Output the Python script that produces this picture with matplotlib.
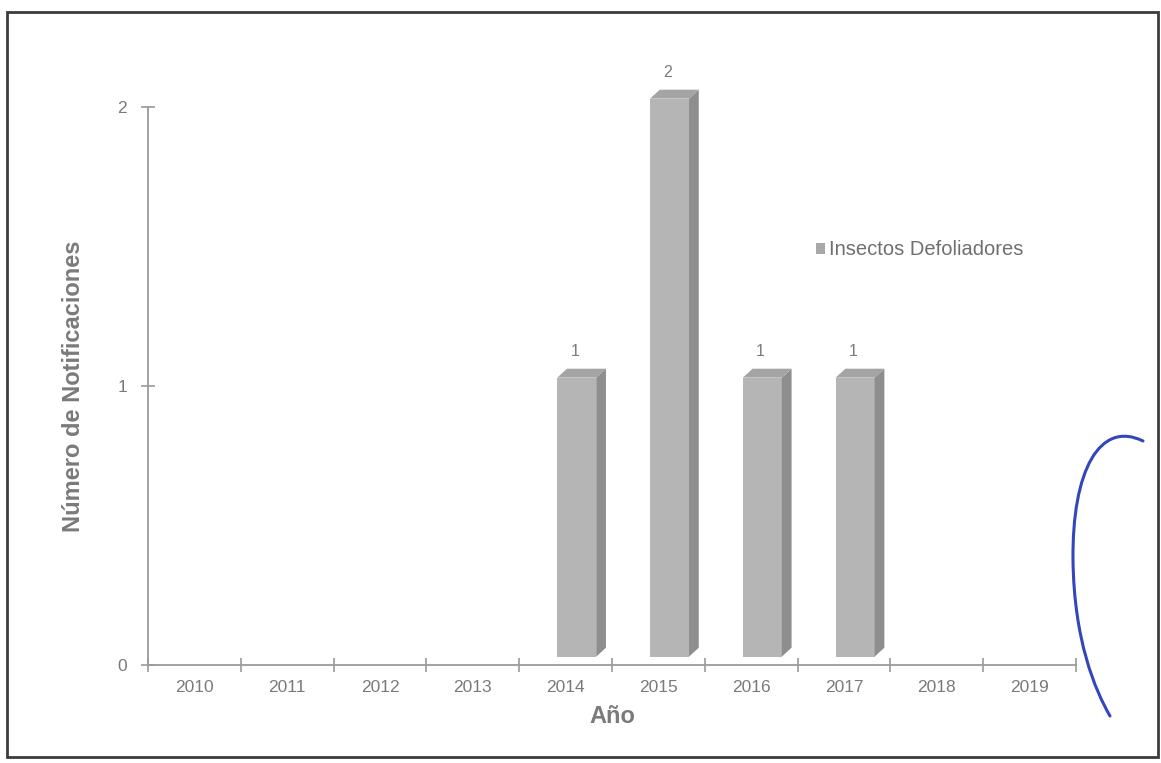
import matplotlib
matplotlib.use("Agg")
import matplotlib.pyplot as plt
import numpy as np
from matplotlib.patches import Polygon, Patch, Rectangle, PathPatch
from matplotlib.path import Path

years = ["2010", "2011", "2012", "2013", "2014", "2015", "2016", "2017", "2018", "2019"]
notificaciones = [0, 0, 0, 0, 1, 2, 1, 1, 0, 0]
serie = "Insectos Defoliadores"

plt.rcParams["font.family"] = ["Liberation Sans", "DejaVu Sans"]

W, H = 1161, 763
fig = plt.figure(figsize=(W / 100, H / 100), dpi=100)
fig.patch.set_facecolor("white")

ax = fig.add_axes([148 / W, 1 - 665 / H, (1076 - 148) / W, (665 - 107) / H])
txt = "#7a7a7a"
axis_col = "#9a9a9a"

# pseudo-3D column: front face, right side, top
bw = 0.42     # front width
sx = 0.12     # shift of the column to the right of the category centre
lift = 0.03   # front face sits slightly above the floor
dx, dy = 0.105, 0.032   # depth of the column
front_c, side_c, top_c = "#b5b5b5", "#8e8e8e", "#a4a4a4"

x = np.arange(len(years))
for xi, v in zip(x, notificaciones):
    if v <= 0:
        continue
    xl = xi + sx - bw / 2
    xr = xi + sx + bw / 2
    ax.bar(xi + sx, v, width=bw, bottom=lift, color=front_c, edgecolor="none",
           zorder=3, clip_on=False)
    ax.add_patch(Polygon([(xr, lift), (xr + dx, lift + dy), (xr + dx, lift + v + dy), (xr, lift + v)],
                         closed=True, facecolor=side_c, edgecolor="none", zorder=3, clip_on=False))
    ax.add_patch(Polygon([(xl, lift + v), (xl + dx, lift + v + dy), (xr + dx, lift + v + dy), (xr, lift + v)],
                         closed=True, facecolor=top_c, edgecolor="none", zorder=3, clip_on=False))
    ax.text(xi + 0.1, v + 0.125, str(v), ha="center", va="center", fontsize=11.5, color=txt)

ax.set_xlim(-0.5, len(years) - 0.5)
ax.set_ylim(0, 2)
ax.set_yticks([0, 1, 2])
ax.set_yticklabels(["0", "1", "2"])
ax.set_xticks(np.arange(len(years) + 1) - 0.5)
ax.set_xticklabels([])
ax.set_xticks(x, minor=True)
ax.set_xticklabels(years, minor=True)
ax.tick_params(axis="x", which="major", direction="inout", length=10, width=1.2, color=axis_col)
ax.tick_params(axis="x", which="minor", length=0, pad=11, labelsize=12.5, labelcolor=txt)
ax.tick_params(axis="y", direction="inout", length=10, width=1.2, color=axis_col,
               pad=10, labelsize=12.5, labelcolor=txt)

for s in ["top", "right"]:
    ax.spines[s].set_visible(False)
for s in ["left", "bottom"]:
    ax.spines[s].set_color(axis_col)
    ax.spines[s].set_linewidth(1.3)

ax.set_xlabel("Año", fontsize=17, fontweight="bold", color=txt, labelpad=7)
ax.set_ylabel("Número de Notificaciones", fontsize=17, fontweight="bold", color=txt, labelpad=23)

ax.legend(handles=[Patch(facecolor="#a8a8a8", edgecolor="none", label=serie)],
          loc="center left", bbox_to_anchor=(0.70, 0.744), frameon=False,
          handlelength=0.45, handleheight=0.45, handletextpad=0.2, fontsize=14.5,
          labelcolor="#6f6f6f")

# page frame around the chart
fig.add_artist(Rectangle((7 / W, 1 - 757 / H), (1158 - 7) / W, (757 - 12) / H,
                         transform=fig.transFigure, fill=False, edgecolor="#3c3c3c", linewidth=2))

# pen stroke on the right margin
pts = [(1143, 441), (1100, 420), (1072, 470), (1073, 560), (1074, 640), (1095, 690), (1110, 716)]
codes = [Path.MOVETO] + [Path.CURVE4] * 6
stroke = Path([(px / W, 1 - py / H) for px, py in pts], codes)
fig.add_artist(PathPatch(stroke, transform=fig.transFigure, fill=False,
                         edgecolor="#3346bb", linewidth=2.2, capstyle="round"))

fig.savefig("out.png", dpi=100, facecolor="white")
